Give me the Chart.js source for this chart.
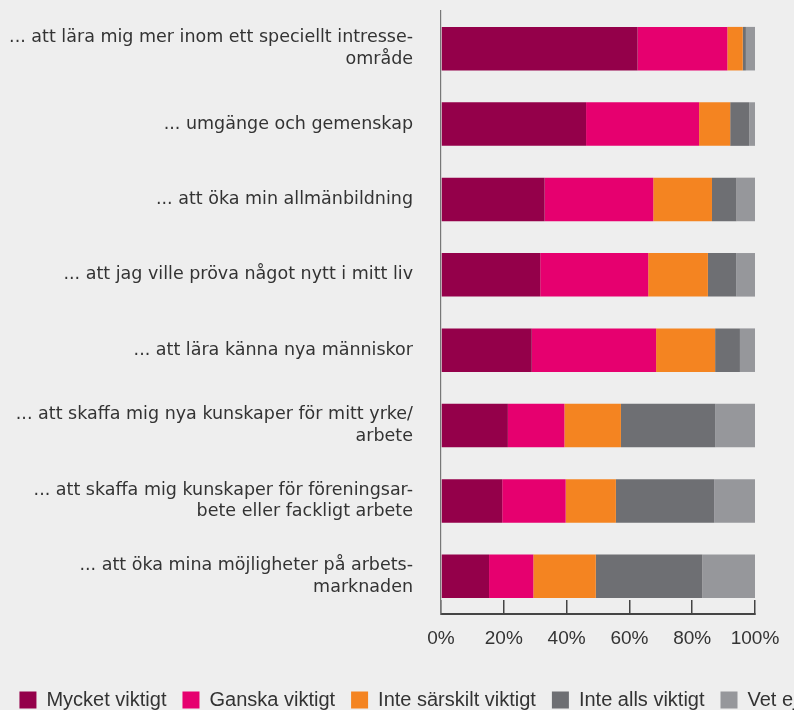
<!DOCTYPE html>
<html>
<head>
<meta charset="utf-8">
<script src="https://cdn.jsdelivr.net/npm/chart.js@4/dist/chart.umd.min.js"></script>
<style>
    html, body { margin: 0; padding: 0; background: #eeeeee; overflow: hidden; }
    #wrap { width: 817px; height: 720px; }
</style>
</head>
<body>
<div id="wrap"><canvas id="chart"></canvas></div>
<script>
// kategorier (y-axel)
const categories = [
    ["... att lära mig mer inom ett speciellt intresse-", "område"],
    "... umgänge och gemenskap",
    "... att öka min allmänbildning",
    "... att jag ville pröva något nytt i mitt liv",
    "... att lära känna nya människor",
    ["... att skaffa mig nya kunskaper för mitt yrke/", "arbete"],
    ["... att skaffa mig kunskaper för föreningsar-", "bete eller fackligt arbete"],
    ["... att öka mina möjligheter på arbets-", "marknaden"]
];

// andelar i procent
const mycketViktigt = [62.6, 46.2, 33.0, 31.6, 28.9, 21.3, 19.5, 15.3];
const ganskaViktigt = [28.6, 36.0, 34.6, 34.4, 39.6, 18.0, 20.2, 14.1];
const inteSarskilt = [4.9, 9.9, 18.7, 19.0, 18.8, 18.0, 16.0, 19.9];
const inteAlls = [1.0, 6.1, 7.8, 9.0, 7.9, 30.0, 31.3, 33.9];
const vetEj = [2.9, 1.8, 5.9, 6.0, 4.8, 12.7, 13.0, 16.8];

const xTicks = [0, 20, 40, 60, 80, 100];

const textColor = "#333333";
const labelFont = "'DejaVu Sans', sans-serif";
const tickFont = "'Liberation Sans', Arial, sans-serif";

function ds(label, data, color) {
    return {
        label: label,
        data: data,
        backgroundColor: color,
        borderWidth: 0,
        barPercentage: 0.578,
        categoryPercentage: 1
    };
}

new Chart(document.getElementById("chart"), {
    type: "bar",
    data: {
        labels: categories,
        datasets: [
            ds("Mycket viktigt", mycketViktigt, "#94004a"),
            ds("Ganska viktigt", ganskaViktigt, "#e6006f"),
            ds("Inte särskilt viktigt", inteSarskilt, "#f48421"),
            ds("Inte alls viktigt", inteAlls, "#6e6f73"),
            ds("Vet ej", vetEj, "#96979b")
        ]
    },
    options: {
        indexAxis: "y",
        responsive: true,
        maintainAspectRatio: false,
        animation: false,
        layout: {
            padding: { top: 11, right: 0, left: 0, bottom: 0 }
        },
        plugins: {
            tooltip: { enabled: false },
            legend: {
                position: "bottom",
                labels: {
                    color: textColor,
                    font: { family: tickFont, size: 20 },
                    boxWidth: 17,
                    boxHeight: 17,
                    padding: 16
                }
            }
        },
        scales: {
            x: {
                stacked: true,
                min: 0,
                max: 100,
                afterBuildTicks: (scale) => {
                    scale.ticks = xTicks.map(v => ({ value: v }));
                },
                afterFit: (scale) => {
                    scale.height = 60;
                    scale.paddingLeft = 0;
                    scale.paddingRight = 62;
                },
                grid: {
                    drawOnChartArea: false,
                    drawTicks: true,
                    tickLength: -14,
                    color: "#444444",
                    lineWidth: 1.5
                },
                border: { display: true, color: "#444444", width: 2 },
                ticks: {
                    color: textColor,
                    padding: 27,
                    maxRotation: 0,
                    font: { family: tickFont, size: 19 },
                    callback: (v) => v + "%"
                }
            },
            y: {
                stacked: true,
                afterFit: (scale) => {
                    scale.width = 441;
                    scale.paddingTop = 0;
                    scale.paddingBottom = 0;
                },
                grid: { drawOnChartArea: false, drawTicks: false },
                border: { display: true, color: "#777777", width: 1.2 },
                ticks: {
                    color: textColor,
                    padding: 28,
                    font: { family: labelFont, size: 17.5, lineHeight: 1.24 }
                }
            }
        }
    }
});
</script>
</body>
</html>
